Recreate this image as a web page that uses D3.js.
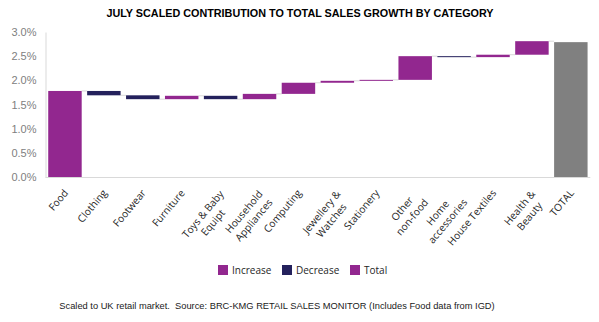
<!DOCTYPE html>
<html>
<head>
<meta charset="utf-8">
<script src="https://cdn.jsdelivr.net/npm/d3@7"></script>
<style>
  html, body { margin: 0; padding: 0; background: #fff; }
  svg { display: block; }
</style>
</head>
<body>
<svg id="chart" width="599" height="322"></svg>
<script>
// Category labels (line breaks marked with \n)
const categories = [
  "Food", "Clothing", "Footwear", "Furniture", "Toys & Baby\nEquipt",
  "Household\nAppliances", "Computing", "Jewellery &\nWatches", "Stationery",
  "Other\nnon-food", "Home\naccessories", "House Textiles", "Health &\nBeauty", "TOTAL"
];
// Contribution of each category (percentage points); Food is the starting block
const contributions = [1.78, -0.09, -0.08, 0.07, -0.07, 0.11, 0.23, 0.04, 0.02, 0.49, -0.02, 0.05, 0.28];
// Overall total
const totalValue = 2.79;
const yTicks = [0, 0.5, 1.0, 1.5, 2.0, 2.5, 3.0];
const legendItems = ["Increase", "Decrease", "Total"];

const colors = { Increase: "#92278f", Decrease: "#24215c", Total: "#92278f", totalBar: "#808080" };

const svg = d3.select("#chart");

const x = d3.scaleBand()
  .domain(categories)
  .range([45.5, 590.3])
  .paddingInner(0.14)
  .paddingOuter(0.07);

const y = d3.scaleLinear().domain([0, 3]).range([177, 32]);

// Build waterfall segments
let running = 0;
const bars = contributions.map((v, i) => {
  const start = running;
  running += v;
  return {
    cat: categories[i],
    lo: Math.min(start, running),
    hi: Math.max(start, running),
    level: running,
    type: v >= 0 ? "Increase" : "Decrease"
  };
});
bars.push({ cat: categories[categories.length - 1], lo: 0, hi: totalValue, level: totalValue, type: "TotalBar" });

// Title
svg.append("text")
  .attr("x", 300).attr("y", 17)
  .attr("text-anchor", "middle")
  .attr("font-family", "Liberation Sans, Arial, sans-serif")
  .attr("font-weight", "bold")
  .attr("font-size", 10.8)
  .attr("fill", "#000")
  .text("JULY SCALED CONTRIBUTION TO TOTAL SALES GROWTH BY CATEGORY");

// Y axis labels
const yAxis = d3.axisLeft(y)
  .tickValues(yTicks)
  .tickFormat(d => d3.format(".1f")(d) + "%")
  .tickSize(0)
  .tickPadding(9);
const yg = svg.append("g").attr("transform", "translate(45.5,0)").call(yAxis);
yg.select(".domain").attr("stroke", "#d9d9d9");
yg.selectAll("text")
  .attr("font-family", "Liberation Sans, Arial, sans-serif")
  .attr("font-size", 11)
  .attr("fill", "#808080");

// Connector lines between consecutive bars
const connectors = bars.slice(0, -1).map((b, i) => ({ from: b, to: bars[i + 1] }));
svg.append("g").selectAll("line")
  .data(connectors)
  .join("line")
  .attr("x1", d => x(d.from.cat) + x.bandwidth())
  .attr("x2", d => x(d.to.cat))
  .attr("y1", d => y(d.from.level))
  .attr("y2", d => y(d.from.level))
  .attr("stroke", "#d9d9d9")
  .attr("stroke-width", 1);

// Bars
svg.append("g").selectAll("rect")
  .data(bars)
  .join("rect")
  .attr("x", d => x(d.cat))
  .attr("width", x.bandwidth())
  .attr("y", d => y(d.hi))
  .attr("height", d => Math.max(1, y(d.lo) - y(d.hi)))
  .attr("fill", d => d.type === "TotalBar" ? colors.totalBar : colors[d.type]);

// X axis baseline
svg.append("line")
  .attr("x1", 45.5).attr("x2", 590.3)
  .attr("y1", y(0) + 0.5).attr("y2", y(0) + 0.5)
  .attr("stroke", "#d9d9d9").attr("stroke-width", 1);

// Rotated category labels, multi-line blocks centred line by line
const lineH = 13;
const labelG = svg.append("g");
categories.forEach(cat => {
  const lines = cat.split("\n");
  const cx = x(cat) + x.bandwidth() / 2 + 1;
  const g = labelG.append("g")
    .attr("transform", `translate(${cx},${lines.length > 1 ? 192 : 191}) rotate(-50)`);
  const texts = lines.map((ln, j) => g.append("text")
    .attr("y", j * lineH)
    .attr("dy", "0.35em")
    .attr("font-family", "Open Sans, sans-serif")
    .attr("font-size", 10.2)
    .attr("fill", "#262626")
    .text(ln));
  const widths = texts.map(t => t.node().getComputedTextLength());
  const maxW = d3.max(widths);
  texts.forEach(t => t.attr("text-anchor", "middle").attr("x", -maxW / 2));
});

// Legend
const legendX = [218, 282, 350];
const lg = svg.append("g");
legendItems.forEach((name, i) => {
  lg.append("rect")
    .attr("x", legendX[i]).attr("y", 265)
    .attr("width", 10).attr("height", 10)
    .attr("fill", colors[name]);
  lg.append("text")
    .attr("x", legendX[i] + 14).attr("y", 270)
    .attr("dy", "0.35em")
    .attr("font-family", "Open Sans, sans-serif")
    .attr("font-size", 10)
    .attr("fill", "#262626")
    .text(name);
});

// Footer note
svg.append("text")
  .attr("x", 277).attr("y", 309)
  .attr("text-anchor", "middle")
  .attr("font-family", "Liberation Sans, Arial, sans-serif")
  .attr("font-size", 9.3)
  .attr("fill", "#1a1a1a")
  .text("Scaled to UK retail market.\u00a0 Source: BRC-KMG RETAIL SALES MONITOR (Includes Food data from IGD)");
</script>
</body>
</html>
